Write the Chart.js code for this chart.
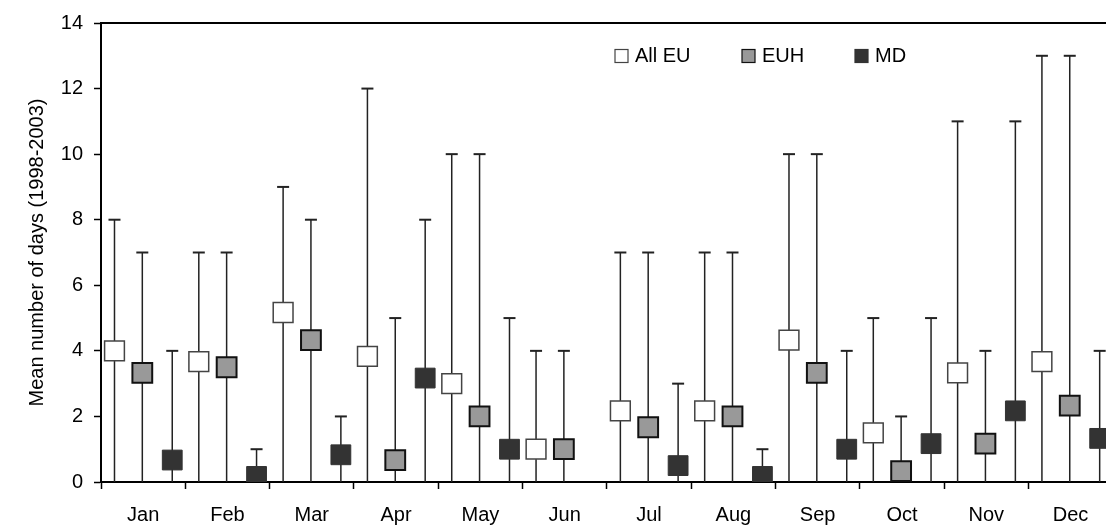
<!DOCTYPE html>
<html>
<head>
<meta charset="utf-8">
<script src="https://cdn.jsdelivr.net/npm/chart.js@4.4.0/dist/chart.umd.min.js"></script>
<style>
html, body { margin: 0; padding: 0; background: #fff; overflow: hidden; }
#wrap { width: 1106px; height: 527px; }
</style>
</head>
<body>
<div id="wrap"><canvas id="chart"></canvas></div>
<script>
const months = ['Jan', 'Feb', 'Mar', 'Apr', 'May', 'Jun', 'Jul', 'Aug', 'Sep', 'Oct', 'Nov', 'Dec'];
const yTicks = [0, 2, 4, 6, 8, 10, 12, 14];

// mean number of days, and max (top of the whisker)
const allEuMean = [4.0, 3.67, 5.17, 3.83, 3.0, 1.0, 2.17, 2.17, 4.33, 1.5, 3.33, 3.67];
const allEuMax = [8, 7, 9, 12, 10, 4, 7, 7, 10, 5, 11, 13];
const euhMean = [3.33, 3.5, 4.33, 0.67, 2.0, 1.0, 1.67, 2.0, 3.33, 0.33, 1.17, 2.33];
const euhMax = [7, 7, 8, 5, 10, 4, 7, 7, 10, 2, 4, 13];
const mdMean = [0.67, 0.17, 0.83, 3.17, 1.0, null, 0.5, 0.17, 1.0, 1.17, 2.17, 1.33];
const mdMax = [4, 1, 2, 8, 5, null, 3, 1, 4, 5, 11, 4];

const FONT = "'Liberation Sans', Arial, sans-serif";
Chart.defaults.font.family = FONT;
Chart.defaults.font.size = 20;
Chart.defaults.color = '#000';

function points(means, shift) {
    return means.map((v, i) => ({ x: i + 0.5 + shift, y: v }));
}

const series = [
    { label: 'All EU', mean: allEuMean, max: allEuMax, shift: -0.34, fill: '#ffffff', stroke: '#444444', bw: 1.5 },
    { label: 'EUH', mean: euhMean, max: euhMax, shift: -0.01, fill: '#999999', stroke: '#111111', bw: 2 },
    { label: 'MD', mean: mdMean, max: mdMax, shift: 0.345, fill: '#333333', stroke: '#333333', bw: 1 }
];

const errorBars = {
    id: 'errorBars',
    beforeDatasetsDraw(chart) {
        const ctx = chart.ctx;
        const y = chart.scales.y;
        ctx.save();
        ctx.strokeStyle = '#222';
        series.forEach((s, i) => {
            const meta = chart.getDatasetMeta(i);
            s.max.forEach((m, j) => {
                if (m === null || s.mean[j] === null) return;
                const px = meta.data[j].x;
                const top = y.getPixelForValue(m);
                const bottom = y.getPixelForValue(0);
                ctx.lineWidth = 1.5;
                ctx.beginPath();
                ctx.moveTo(px, bottom);
                ctx.lineTo(px, top);
                ctx.stroke();
                ctx.lineWidth = 2;
                ctx.beginPath();
                ctx.moveTo(px - 6, top);
                ctx.lineTo(px + 6, top);
                ctx.stroke();
            });
        });
        ctx.restore();
    },
    afterDraw(chart) {
        const ctx = chart.ctx;
        const area = chart.chartArea;
        ctx.save();
        // top frame line
        ctx.strokeStyle = '#000';
        ctx.lineWidth = 2;
        ctx.beginPath();
        ctx.moveTo(area.left, area.top);
        ctx.lineTo(area.right, area.top);
        ctx.stroke();
        // legend
        const legendX = [615, 742, 855];
        ctx.font = '20px ' + FONT;
        ctx.textBaseline = 'middle';
        ctx.fillStyle = '#000';
        series.forEach((s, i) => {
            const bx = legendX[i];
            ctx.fillStyle = s.fill;
            ctx.fillRect(bx, 49.5, 13, 13);
            ctx.strokeStyle = s.stroke;
            ctx.lineWidth = 1.2;
            ctx.strokeRect(bx, 49.5, 13, 13);
            ctx.fillStyle = '#000';
            ctx.fillText(s.label, bx + 20, 56.5);
        });
        ctx.restore();
    }
};

new Chart(document.getElementById('chart'), {
    type: 'scatter',
    data: {
        datasets: series.map(s => ({
            label: s.label,
            data: points(s.mean, s.shift),
            pointStyle: 'rect',
            pointRadius: 14,
            pointHoverRadius: 14,
            backgroundColor: s.fill,
            borderColor: s.stroke,
            borderWidth: s.bw
        }))
    },
    options: {
        responsive: true,
        maintainAspectRatio: false,
        animation: false,
        events: [],
        layout: { autoPadding: false, padding: { top: 18, left: 0, right: 0, bottom: 0 } },
        plugins: { legend: { display: false }, tooltip: { enabled: false } },
        scales: {
            x: {
                type: 'linear',
                min: 0,
                max: 11.92,
                afterBuildTicks(scale) {
                    const t = [];
                    months.forEach((m, i) => { t.push({ value: i }); t.push({ value: i + 0.5 }); });
                    scale.ticks = t;
                },
                afterFit(scale) {
                    scale.height = 45;
                    scale.paddingLeft = 0;
                    scale.paddingRight = 0;
                },
                grid: {
                    display: true,
                    drawOnChartArea: false,
                    drawTicks: true,
                    tickLength: 7,
                    tickWidth: 1.5,
                    tickColor: ctx => Number.isInteger(ctx.tick.value) ? '#000' : 'rgba(0,0,0,0)'
                },
                border: { display: true, color: '#000', width: 2 },
                ticks: {
                    autoSkip: false,
                    maxRotation: 0,
                    minRotation: 0,
                    padding: 14,
                    font: { size: 20 },
                    callback: v => Number.isInteger(v) ? '' : months[Math.floor(v)]
                }
            },
            y: {
                min: 0,
                max: 14,
                afterBuildTicks(scale) { scale.ticks = yTicks.map(v => ({ value: v })); },
                afterFit(scale) { scale.width = 101; },
                grid: {
                    display: true,
                    drawOnChartArea: false,
                    drawTicks: true,
                    tickLength: 7,
                    tickWidth: 1.5,
                    tickColor: '#000'
                },
                border: { display: true, color: '#000', width: 2 },
                ticks: { padding: 11, font: { size: 20 } },
                title: {
                    display: true,
                    text: 'Mean number of days (1998-2003)',
                    font: { size: 20 },
                    padding: { top: 25, bottom: 0 }
                }
            }
        }
    },
    plugins: [errorBars]
});
</script>
</body>
</html>
